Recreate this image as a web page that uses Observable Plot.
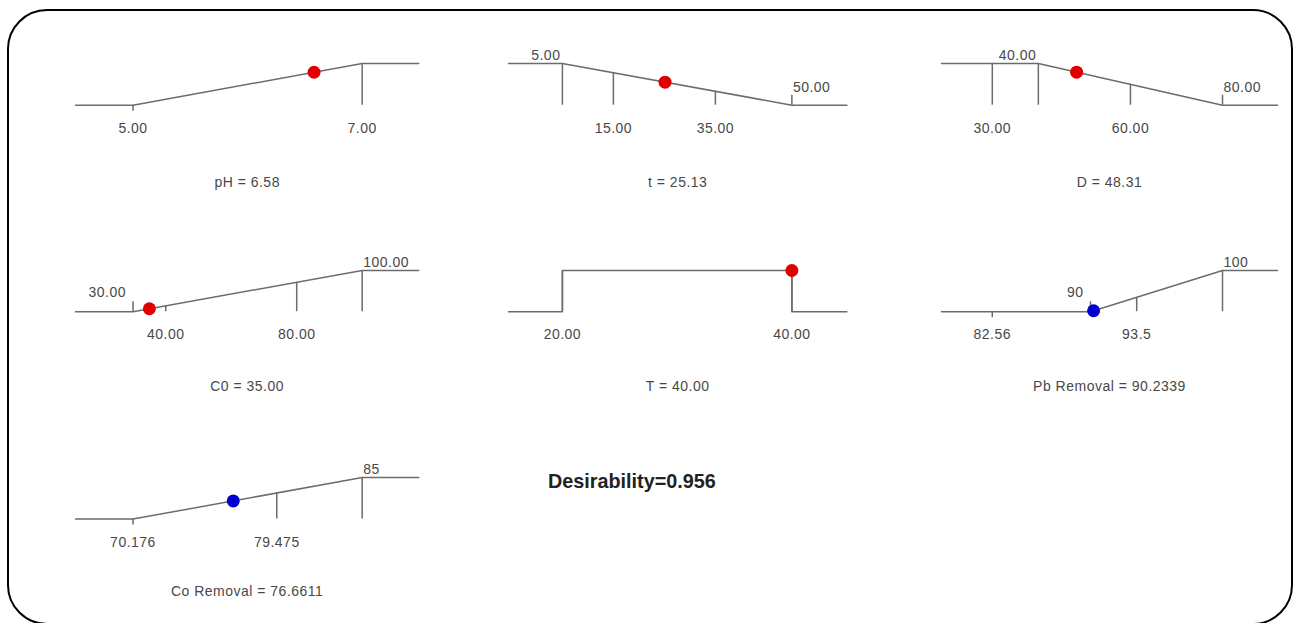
<!DOCTYPE html>
<html>
<head>
<meta charset="utf-8">
<script src="https://cdn.jsdelivr.net/npm/d3@7"></script>
<script src="https://cdn.jsdelivr.net/npm/@observablehq/plot@0.6"></script>
<style>
  html, body { margin: 0; padding: 0; background: #fff; }
  #frame { position: relative; width: 1298px; height: 623px; overflow: hidden; background: #fff; }
  #border { position: absolute; left: 7px; top: 9px; width: 1286px; height: 616px; border: 2px solid #000; border-radius: 40px; box-sizing: border-box; }
  .panel { position: absolute; }
  #desir { position: absolute; left: 548px; top: 470px; font-family: "Liberation Sans", Arial, sans-serif; font-weight: bold; font-size: 19.8px; color: #222; white-space: nowrap; }
</style>
</head>
<body>
<div id="frame">
  <div id="border"></div>
  <div id="desir"></div>
</div>
<script>
// ---------- data ----------
const factorNames = ["pH", "t", "D", "C0", "T", "Pb Removal", "Co Removal"];
const optimumValues = [6.58, 25.13, 48.31, 35.00, 40.00, 90.2339, 76.6611];
const optimumLabels = ["6.58", "25.13", "48.31", "35.00", "40.00", "90.2339", "76.6611"];
const kinds = ["factor", "factor", "factor", "factor", "factor", "response", "response"];
const rangeLow = [5, 5, 30, 30, 20, 82.56, 70.176];
const rangeHigh = [7, 50, 80, 100, 40, 100, 85];
const rampValues = [[5, 7], [5, 50], [40, 80], [30, 100], [20, 20, 40, 40], [90, 100], [70.176, 85]];
const rampDesirability = [[0, 1], [1, 0], [1, 0], [0, 1], [0, 1, 1, 0], [0, 1], [0, 1]];
const tickValues = [[5, 7], [5, 15, 35, 50], [30, 40, 60, 80], [30, 40, 80, 100], [20, 40], [82.56, 90, 93.5, 100], [70.176, 79.475, 85]];
const tickLabels = [["5.00", "7.00"], ["5.00", "15.00", "35.00", "50.00"], ["30.00", "40.00", "60.00", "80.00"], ["30.00", "40.00", "80.00", "100.00"], ["20.00", "40.00"], ["82.56", "90", "93.5", "100"], ["70.176", "79.475", "85"]];
const tickSides = [["below", "below"], ["above", "below", "below", "above"], ["below", "above", "below", "above"], ["above", "below", "below", "above"], ["below", "below"], ["below", "above", "below", "above"], ["below", "below", "above"]];
const overallDesirability = "0.956";

// ---------- layout ----------
const cols = [
  {lineStart: 75, tickLeft: 132.5, tickRight: 361.7, lineEnd: 418.3},
  {lineStart: 508.3, tickLeft: 562.2, tickRight: 791.7, lineEnd: 846.7},
  {lineStart: 940.7, tickLeft: 991.5, tickRight: 1221.7, lineEnd: 1276.7}
];
const rows = [
  {top: 63.3, base: 105, title: 182.5},
  {top: 270.3, base: 311.5, title: 386},
  {top: 476.7, base: 518.3, title: 591}
];
const LINE = "#6c6c6c";
const TEXT = "#484848";
const FONT = "'Liberation Sans', Arial, sans-serif";

function curveAt(vals, ds, v) {
  for (let k = 0; k < vals.length - 1; k++) {
    const a = vals[k], b = vals[k + 1];
    if (b === a) continue;
    if (v >= a && v <= b) return ds[k] + (ds[k + 1] - ds[k]) * (v - a) / (b - a);
  }
  if (v <= vals[0]) return ds[0];
  return ds[ds.length - 1];
}

const frame = document.getElementById("frame");
document.getElementById("desir").textContent = "Desirability=" + overallDesirability;

factorNames.forEach((name, i) => {
  const c = cols[i % 3], r = rows[Math.floor(i / 3)];
  const padX = 10, topL = 45;
  const W = (c.lineEnd - c.lineStart) + 2 * padX;
  const H = 180;
  const tl = padX + (c.tickLeft - c.lineStart);
  const tr = padX + (c.tickRight - c.lineStart);
  const lo = rangeLow[i], hi = rangeHigh[i];
  const k = (hi - lo) / (tr - tl);
  const leftVal = lo - (tl - padX) * k;
  const rightVal = hi + (W - padX - tr) * k;
  const rh = r.base - r.top;
  const pxD = 1 / rh;
  const vals = rampValues[i], ds = rampDesirability[i];

  const lineData = [{x: leftVal, d: ds[0]}]
    .concat(vals.map((v, j) => ({x: v, d: ds[j]})))
    .concat([{x: rightVal, d: ds[ds.length - 1]}]);

  const mid = (lo + hi) / 2;
  const ticks = tickValues[i].map((v, j) => {
    const d = curveAt(vals, ds, v);
    const side = tickSides[i][j];
    const short = d < 1e-6;
    let y1, y2, top;
    if (short) {
      if (side === "above") { y1 = 0; y2 = 10 * pxD; top = y2; }
      else { y1 = 0; y2 = -6 * pxD; top = 0; }
    } else { y1 = 0; y2 = d; top = d; }
    return {v, d, y1, y2, top, side, short, label: tickLabels[i][j], anchor: v < mid ? "end" : "start"};
  });
  const below = ticks.filter(t => t.side === "below");
  const aboveEndLong = ticks.filter(t => t.side === "above" && t.anchor === "end" && !t.short);
  const aboveEndShort = ticks.filter(t => t.side === "above" && t.anchor === "end" && t.short);
  const aboveStart = ticks.filter(t => t.side === "above" && t.anchor === "start");

  const optD = curveAt(vals, ds, optimumValues[i]);
  const dotColor = kinds[i] === "factor" ? "#e00000" : "#0000d0";

  const plot = Plot.plot({
    width: W, height: H,
    marginLeft: 0, marginRight: 0, marginTop: 0, marginBottom: 0,
    x: {domain: [lo, hi], range: [tl, tr], axis: null},
    y: {domain: [0, 1], range: [topL + rh, topL], axis: null},
    style: {fontFamily: FONT, fontSize: "14px", letterSpacing: "0.5px", background: "transparent", overflow: "visible", color: TEXT},
    marks: [
      Plot.ruleX(ticks, {x: "v", y1: "y1", y2: "y2", stroke: LINE, strokeWidth: 1.5}),
      Plot.line(lineData, {x: "x", y: "d", stroke: LINE, strokeWidth: 1.5, curve: "linear"}),
      Plot.text(below, {x: "v", y: () => 0, text: "label", dy: 23, fill: TEXT, textAnchor: "middle"}),
      Plot.text(aboveEndLong, {x: "v", y: "top", text: "label", dy: -8, dx: -2, fill: TEXT, textAnchor: "end"}),
      Plot.text(aboveEndShort, {x: "v", y: "top", text: "label", dy: -9, dx: -7, fill: TEXT, textAnchor: "end"}),
      Plot.text(aboveStart, {x: "v", y: "top", text: "label", dy: -8, dx: 1, fill: TEXT, textAnchor: "start"}),
      Plot.dot([{x: optimumValues[i], d: optD}], {x: "x", y: "d", r: 6.5, fill: dotColor, stroke: "none"}),
      Plot.text([name + " = " + optimumLabels[i]], {frameAnchor: "top", dy: topL + rh + (r.title - r.base), text: d => d, fill: TEXT, textAnchor: "middle", lineAnchor: "middle"})
    ]
  });
  const div = document.createElement("div");
  div.className = "panel";
  div.style.left = (c.lineStart - padX) + "px";
  div.style.top = (r.top - topL) + "px";
  div.appendChild(plot);
  frame.appendChild(div);
});
</script>
</body>
</html>
